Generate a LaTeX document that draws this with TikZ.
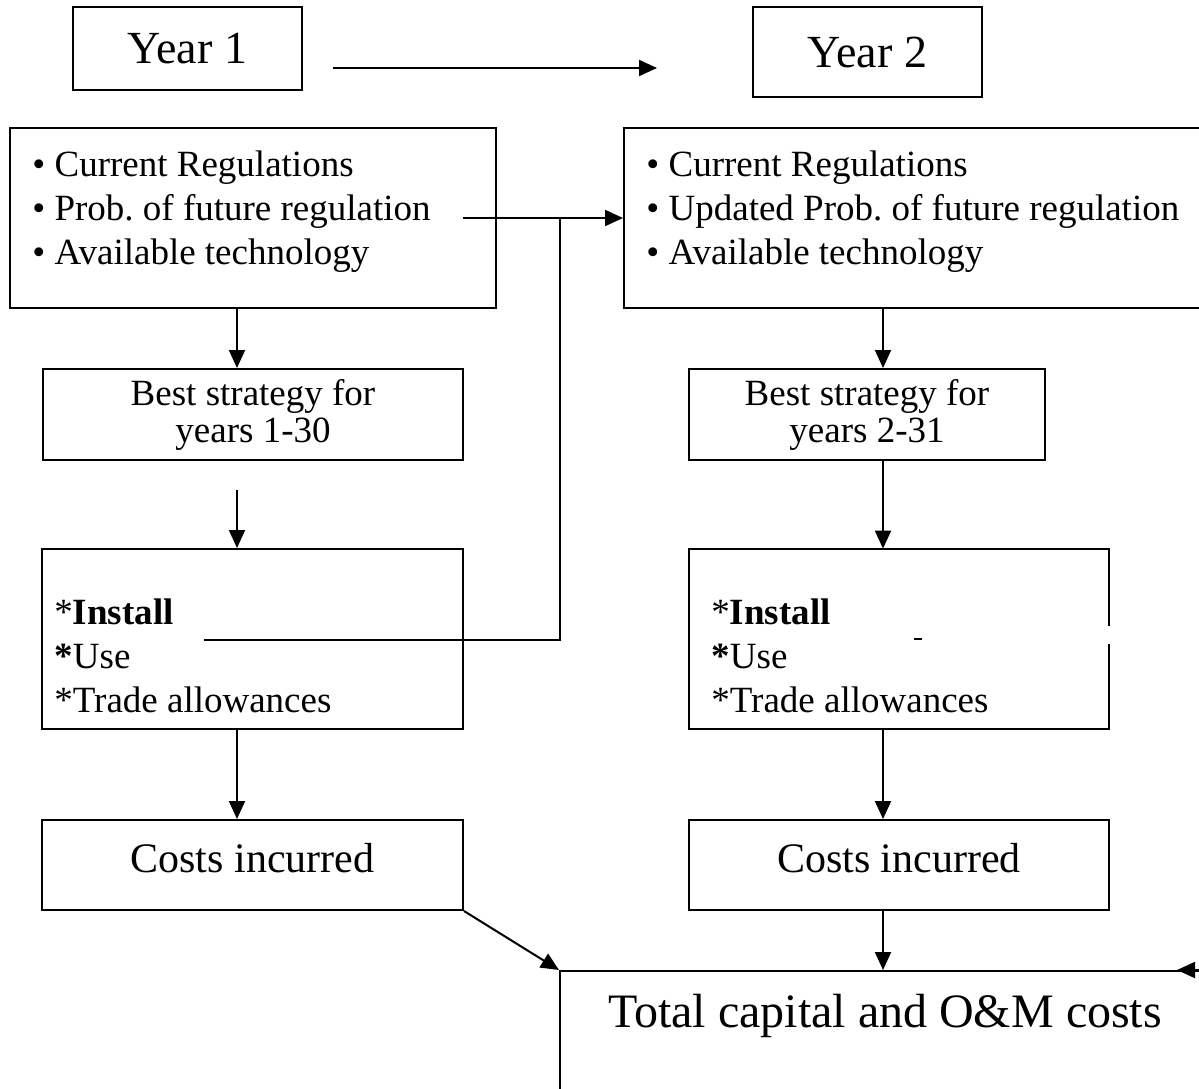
\documentclass[tikz,border=0pt]{standalone}
\usepackage{fontspec}
\setmainfont{Liberation Serif}
\usetikzlibrary{arrows.meta,positioning}
\frenchspacing

\tikzset{
  box/.style={draw, line width=1pt, rectangle, inner sep=0pt},
  yeartext/.style={font=\fontsize{23}{26}\selectfont},
  bodytext/.style={font=\fontsize{18.5}{22}\selectfont, inner sep=0pt, align=left},
  besttext/.style={font=\fontsize{18.5}{18.5}\selectfont, align=center},
  coststext/.style={font=\fontsize{21}{24}\selectfont, text depth=7pt},
  link/.style={line width=1pt, -{Triangle[length=9pt,width=8pt]}},
  plainlink/.style={line width=1pt},
}

\begin{document}
\begin{tikzpicture}[x=0.5pt,y=-0.5pt]

    % page frame, one unit = one pixel of the picture
    \useasboundingbox (0,0) rectangle (1199,1088);
    \clip (0,0) rectangle (1199,1088);

    % columns of the vertical arrows
    \coordinate (colL) at (237,0);
    \coordinate (colR) at (883,0);

    % year headers
    \node[box, yeartext, minimum width=114.5pt, minimum height=41.5pt] (year1) at (187.5,48.5) {Year 1};
    \node[box, yeartext, minimum width=114.5pt, minimum height=45pt] (year2) at (867.5,52) {Year 2};
    \coordinate (yearfrom) at (333,68);
    \coordinate (yearto) at (657,68);
    \draw[link] (yearfrom) -- (yearto);

    % information boxes
    \node[box, minimum width=243pt, minimum height=90pt] (info1) at (253,218) {};
    \node[box, minimum width=295.5pt, minimum height=90pt] (info2) at (919.5,218) {};
    \node[bodytext, anchor=north west] (info1txt) at (32,150)
      {\textbullet\ Current Regulations\\\textbullet\ Prob. of future regulation\\\textbullet\ Available technology};
    \node[bodytext, anchor=north west] (info2txt) at (646,150)
      {\textbullet\ Current Regulations\\\textbullet\ Updated Prob. of future regulation\\\textbullet\ Available technology};

    % best strategy boxes
    \node[box, besttext, minimum width=210pt, minimum height=45.5pt] (best1) at (253,414.5) {Best strategy for\\years 1-30};
    \node[box, besttext, minimum width=178pt, minimum height=45.5pt] (best2) at (867,414.5) {Best strategy for\\years 2-31};

    % decision boxes (right one has a gap in its right side)
    \node[box, minimum width=210.5pt, minimum height=90pt] (inst1) at (252.5,639) {};
    \node[rectangle, inner sep=0pt, minimum width=210pt, minimum height=90pt] (inst2) at (899,639) {};
    \draw[plainlink] (inst2.east) ++(0,5) -- (inst2.south east) -- (inst2.south west)
      -- (inst2.north west) -- (inst2.north east) -- ++(0,77);
    \draw[plainlink] (914,639) -- (922,639);
    \node[bodytext, anchor=north west] (inst1txt) at (54,598)
      {*\textbf{Install}\\\textbf{*}Use\\*Trade allowances};
    \node[bodytext, anchor=north west] (inst2txt) at (711,598)
      {*\textbf{Install}\\\textbf{*}Use\\*Trade allowances};

    % cost boxes
    \node[box, coststext, minimum width=210.5pt, minimum height=45pt] (costs1) at (252.5,865) {Costs incurred};
    \node[box, coststext, minimum width=210pt, minimum height=45pt] (costs2) at (899,865) {Costs incurred};

    % total box, running off the page
    \node[box, minimum width=335pt, minimum height=79.5pt] (total) at (895,1050.5) {};
    \node[font=\fontsize{24}{28}\selectfont] (totaltxt) at (885,1016) {Total capital and O\&M costs};

    % arrows down the left column
    \coordinate (gapL) at (237,490);
    \draw[link] (info1.south -| colL) -- (best1.north -| colL);
    \draw[link] (gapL) -- (inst1.north -| colL);
    \draw[link] (inst1.south -| colL) -- (costs1.north -| colL);
    \draw[link] (costs1.south east) -- (total.north west);

    % arrows down the right column
    \draw[link] (info2.south -| colR) -- (best2.north -| colR);
    \draw[link] (best2.south -| colR) -- (inst2.north -| colR);
    \draw[link] (inst2.south -| colR) -- (costs2.north -| colR);
    \draw[link] (costs2.south -| colR) -- (total.north -| colR);

    % update link between the years
    \coordinate (regout) at (463,218);
    \coordinate (split) at (560,218);
    \coordinate (instout) at (204,640);
    \draw[link] (regout) -- (info2.west |- regout);
    \draw[plainlink] (split) |- (instout);

    % arrow coming in from the right edge
    \coordinate (rightin) at (1240,970);
    \coordinate (righttip) at (1177,970);
    \draw[link] (rightin) -- (righttip);

\end{tikzpicture}
\end{document}
